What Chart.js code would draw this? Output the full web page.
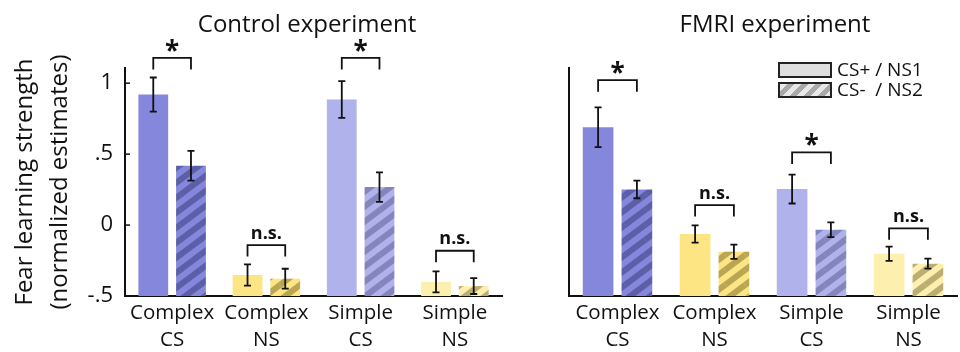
<!DOCTYPE html>
<html><head><meta charset="utf-8">
<script src="https://cdn.jsdelivr.net/npm/chart.js@4.4.1/dist/chart.umd.min.js"></script>
<style>
html,body{margin:0;padding:0;background:#fff;}
#wrap{position:relative;width:960px;height:352px;overflow:hidden;font-family:'Open Sans',sans-serif;color:#111;}
canvas{position:absolute;top:0;}
.title{position:absolute;top:5px;font-size:24px;line-height:36px;transform:translateX(-50%);white-space:nowrap;}
.legtxt{position:absolute;left:837px;font-size:19px;line-height:20px;white-space:pre;}
.box{position:absolute;left:778px;width:50px;height:12px;border:2px solid #222;}
</style></head>
<body><div id="wrap">
<canvas id="c1" width="545" height="352" style="left:0;width:545px;height:352px"></canvas>
<canvas id="c2" width="415" height="352" style="left:545px;width:415px;height:352px"></canvas>
<div class="title" style="left:307px">Control experiment</div>
<div class="title" style="left:775px">FMRI experiment</div>
<div class="box" style="top:62px;background:#dedede"></div>
<div class="box" style="top:82px;background:repeating-linear-gradient(135deg,#e8e8e8 0 5px,#a9a9a9 5px 10px)"></div>
<div class="legtxt" style="top:59px">CS+ / NS1</div>
<div class="legtxt" style="top:79px">CS-  / NS2</div>
</div>
<script>
// ---- data ----
const categories = [['Complex','CS'],['Complex','NS'],['Simple','CS'],['Simple','NS']];
const yTicks = [-0.5, 0, 0.5, 1];
const yTickLabels = ['-.5', '0', '.5', '1'];
const yMin = -0.5, yMax = 1.107;

const controlPlus     = [0.92, -0.352, 0.885, -0.40];
const controlPlusErr  = [0.12, 0.075, 0.13, 0.074];
const controlMinus    = [0.418, -0.378, 0.268, -0.43];
const controlMinusErr = [0.105, 0.07, 0.104, 0.056];
const controlSig      = ['*', 'n.s.', '*', 'n.s.'];
const controlBracket  = [1.178, -0.141, 1.178, -0.181];

const fmriPlus     = [0.69, -0.063, 0.254, -0.202];
const fmriPlusErr  = [0.14, 0.061, 0.102, 0.05];
const fmriMinus    = [0.251, -0.188, -0.033, -0.272];
const fmriMinusErr = [0.062, 0.05, 0.052, 0.035];
const fmriSig      = ['*', 'n.s.', '*', 'n.s.'];
const fmriBracket  = [1.021, 0.141, 0.512, -0.023];

const baseColors   = ['#8587dd', '#fde584', '#b0b2ec', '#fdf0ae'];
const stripeColors = ['#5c5ea8', '#b9a552', '#8385bb', '#bcae72'];

function hatch(base, stripe){
  const w = 20, h = 15;
  const c = document.createElement('canvas'); c.width = w; c.height = h;
  const g = c.getContext('2d');
  g.fillStyle = base; g.fillRect(0, 0, w, h);
  g.strokeStyle = stripe; g.lineWidth = 6;
  for (const [dx, dy] of [[0,0],[-w,0],[w,0],[0,-h],[0,h]]) {
    g.beginPath(); g.moveTo(dx, h + dy); g.lineTo(w + dx, dy); g.stroke();
  }
  return g.createPattern(c, 'repeat');
}

const INK = '#111';

const annot = {
  id: 'annot',
  afterDatasetsDraw(chart, args, opts) {
    const ctx = chart.ctx, ys = chart.scales.y;
    ctx.save();
    ctx.strokeStyle = INK; ctx.fillStyle = INK; ctx.lineWidth = 1.8;
    // error bars
    opts.errs.forEach((errArr, di) => {
      const meta = chart.getDatasetMeta(di);
      const vals = chart.data.datasets[di].data;
      meta.data.forEach((el, j) => {
        const x = el.x;
        const y1 = ys.getPixelForValue(vals[j] + errArr[j]);
        const y2 = ys.getPixelForValue(vals[j] - errArr[j]);
        ctx.beginPath();
        ctx.moveTo(x, y1); ctx.lineTo(x, y2);
        ctx.moveTo(x - 3.5, y1); ctx.lineTo(x + 3.5, y1);
        ctx.moveTo(x - 3.5, y2); ctx.lineTo(x + 3.5, y2);
        ctx.stroke();
      });
    });
    // brackets
    const m0 = chart.getDatasetMeta(0), m1 = chart.getDatasetMeta(1);
    ctx.lineWidth = 1.8;
    opts.bracket.forEach((bv, j) => {
      const x1 = m0.data[j].x, x2 = m1.data[j].x;
      const y = ys.getPixelForValue(bv);
      ctx.beginPath();
      ctx.moveTo(x1, y + 11.5); ctx.lineTo(x1, y); ctx.lineTo(x2, y); ctx.lineTo(x2, y + 11.5);
      ctx.stroke();
      const s = opts.sig[j];
      ctx.textAlign = 'center'; ctx.textBaseline = 'alphabetic';
      if (s === '*') {
        ctx.font = 'bold 26px "Open Sans"';
        ctx.fillText(s, (x1 + x2) / 2, y + 2);
      } else {
        ctx.font = 'bold 18px "Open Sans"';
        ctx.fillText(s, (x1 + x2) / 2, y - 6.5);
      }
    });
    // inward y ticks
    if (opts.yTickMarks) {
      ctx.lineWidth = 1.5;
      yTicks.forEach(v => {
        const y = ys.getPixelForValue(v);
        ctx.beginPath(); ctx.moveTo(chart.chartArea.left, y); ctx.lineTo(chart.chartArea.left + 5, y); ctx.stroke();
      });
    }
    ctx.restore();
  }
};

function makeChart(id, plus, plusErr, minus, minusErr, sig, bracket, left) {
  return new Chart(document.getElementById(id), {
    type: 'bar',
    data: {
      labels: categories,
      datasets: [
        { data: plus, backgroundColor: baseColors, borderWidth: 0, base: yMin,
          categoryPercentage: 0.8, barPercentage: 0.79 },
        { data: minus, backgroundColor: baseColors.map((b, i) => hatch(b, stripeColors[i])), borderWidth: 0, base: yMin,
          categoryPercentage: 0.8, barPercentage: 0.79 }
      ]
    },
    options: {
      responsive: false, animation: false,
      layout: { padding: left ? { top: 68, left: 0, right: 43, bottom: 0 } : { top: 68, left: 0, right: 3, bottom: 0 } },
      plugins: {
        legend: { display: false }, tooltip: { enabled: false },
        annot: { errs: [plusErr, minusErr], sig: sig, bracket: bracket, yTickMarks: left }
      },
      scales: {
        x: {
          grid: { display: false, drawTicks: false },
          border: { display: true, color: INK, width: 2 },
          ticks: { color: INK, font: { family: 'Open Sans', size: 20.5, lineHeight: 1.32 }, padding: 3.5, maxRotation: 0, autoSkip: false },
          afterFit(s) { s.height = 56; }
        },
        y: {
          min: yMin, max: yMax,
          grid: { display: false, drawTicks: false },
          border: { display: true, color: INK, width: 2 },
          afterBuildTicks(s) { s.ticks = yTicks.map(v => ({ value: v })); },
          ticks: {
            display: left, color: INK, padding: 12,
            font: { family: 'Open Sans', size: 22 },
            callback: (v) => { const i = yTicks.indexOf(v); return i >= 0 ? yTickLabels[i] : ''; }
          },
          title: {
            display: left, color: INK,
            text: ['Fear learning strength', '(normalized estimates)'],
            font: { family: 'Open Sans', size: 24, lineHeight: 35 / 24 },
            padding: { top: 7.5, bottom: 0 }
          },
          afterFit(s) { s.width = left ? 125 : 24; }
        }
      }
    },
    plugins: [annot]
  });
}

makeChart('c1', controlPlus, controlPlusErr, controlMinus, controlMinusErr, controlSig, controlBracket, true);
makeChart('c2', fmriPlus, fmriPlusErr, fmriMinus, fmriMinusErr, fmriSig, fmriBracket, false);
</script>
</body></html>
